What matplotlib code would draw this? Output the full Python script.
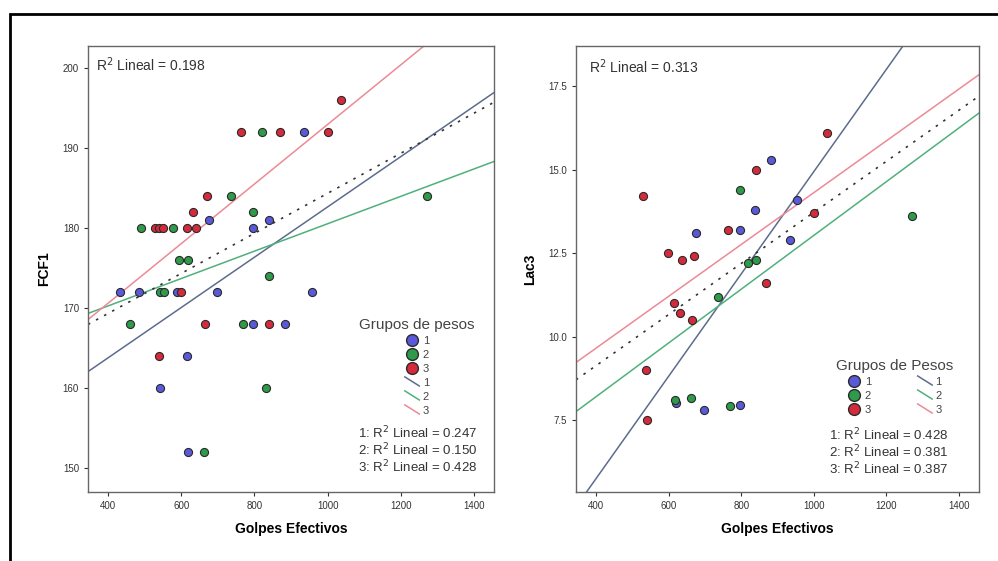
import numpy as np
import matplotlib
matplotlib.use('Agg')
from matplotlib import pyplot as plt
from matplotlib.lines import Line2D
from matplotlib.patches import Rectangle
from matplotlib.legend_handler import HandlerBase

plt.rcParams['font.family'] = ['Liberation Sans', 'DejaVu Sans']

# Left panel: FCF1 vs Golpes Efectivos, by weight group
fcf_g1_x = [935, 677, 839, 796, 433, 484, 588, 697, 957, 796, 884, 617, 542, 619]
fcf_g1_y = [192, 181, 181, 180, 172, 172, 172, 172, 172, 168, 168, 164, 160, 152]
fcf_g2_x = [820, 737, 797, 491, 577, 593, 619, 839, 1273, 542, 553, 460, 770, 832, 663]
fcf_g2_y = [192, 184, 182, 180, 180, 176, 176, 174, 184, 172, 172, 168, 168, 160, 152]
fcf_g3_x = [1038, 764, 870, 1002, 670, 633, 527, 538, 549, 617, 640, 599, 666, 840, 539]
fcf_g3_y = [196, 192, 192, 192, 184, 182, 180, 180, 180, 180, 180, 172, 168, 168, 164]

# Right panel: Lac3 vs Golpes Efectivos
lac_g1_x = [881, 955, 838, 675, 796, 934, 620, 698, 797]
lac_g1_y = [15.3, 14.1, 13.8, 13.1, 13.2, 12.9, 8.0, 7.79, 7.95]
lac_g2_x = [798, 1271, 820, 840, 735, 618, 662, 768]
lac_g2_y = [14.4, 13.6, 12.2, 12.3, 11.2, 8.1, 8.15, 7.91]
lac_g3_x = [530, 1036, 840, 1001, 764, 598, 638, 669, 869, 616, 631, 664, 538, 540]
lac_g3_y = [14.2, 16.1, 15.0, 13.7, 13.2, 12.5, 12.3, 12.4, 11.6, 11.0, 10.7, 10.5, 9.0, 7.5]

# fit lines: group 1, 2, 3, total
fcf_slopes = [0.0314, 0.0171, 0.0372, 0.0250]
fcf_intercepts = [151.2, 163.4, 155.7, 159.3]
lac_slopes = [0.01532, 0.00805, 0.00776, 0.00765]
lac_intercepts = [-0.38, 4.98, 6.55, 6.07]

fcf_r2 = ['0.247', '0.150', '0.428']
lac_r2 = ['0.428', '0.381', '0.387']
fcf_r2_total = '0.198'
lac_r2_total = '0.313'

groups = ['1', '2', '3']
marker_colors = ['#5a5ad8', '#2f9a4a', '#d42a3c']
line_colors = ['#5d6c8c', '#4fb07c', '#ec8a96']


class HandlerDiagonal(HandlerBase):
    # SPSS style legend key: a short falling line
    def create_artists(self, legend, orig_handle, xdescent, ydescent,
                       width, height, fontsize, trans):
        line = Line2D([-xdescent, -xdescent + width], [height, -ydescent + 0.1 * height],
                      color=orig_handle.get_color(), lw=orig_handle.get_linewidth(),
                      transform=trans)
        return [line]


fig = plt.figure(figsize=(9.98, 5.61), dpi=100)
fig.patches.append(Rectangle((10 / 998, -0.01), 1.0, 1 - 14 / 561 + 0.01,
                             transform=fig.transFigure, fill=False,
                             edgecolor='black', linewidth=2))

ax1 = fig.add_axes([88 / 998, 1 - 492 / 561, 406 / 998, 446 / 561])
ax2 = fig.add_axes([576 / 998, 1 - 492 / 561, 403 / 998, 446 / 561])


def draw_panel(ax, xs, ys, slopes, intercepts, xlim, ylim):
    ax.set_xlim(xlim)
    ax.set_ylim(ylim)
    xx = np.array(xlim)
    for i in range(3):
        ax.plot(xx, slopes[i] * xx + intercepts[i], color=line_colors[i], lw=1.1, zorder=2)
    ax.plot(xx, slopes[3] * xx + intercepts[3], color='#333333', lw=1.2,
            linestyle=(0, (1.5, 4)), zorder=2)
    for i in range(3):
        ax.scatter(xs[i], ys[i], s=34, color=marker_colors[i], edgecolors='#2a2a2a',
                   linewidths=0.8, zorder=3)
    ax.set_xticks([400, 600, 800, 1000, 1200, 1400])
    for s in ax.spines.values():
        s.set_color('#666666')
        s.set_linewidth(1.0)
    ax.tick_params(labelsize=7, colors='#333333', length=3, width=0.8)
    ax.set_xlabel('Golpes Efectivos', fontsize=10, fontweight='bold', labelpad=8)


draw_panel(ax1, [fcf_g1_x, fcf_g2_x, fcf_g3_x], [fcf_g1_y, fcf_g2_y, fcf_g3_y],
           fcf_slopes, fcf_intercepts, (345, 1455), (147, 202.7))
ax1.set_yticks([150, 160, 170, 180, 190, 200])
ax1.set_ylabel('FCF1', fontsize=10, fontweight='bold', labelpad=8)

draw_panel(ax2, [lac_g1_x, lac_g2_x, lac_g3_x], [lac_g1_y, lac_g2_y, lac_g3_y],
           lac_slopes, lac_intercepts, (345, 1455), (5.35, 18.7))
ax2.set_yticks([7.5, 10.0, 12.5, 15.0, 17.5])
ax2.set_yticklabels(['7.5', '10.0', '12.5', '15.0', '17.5'])
ax2.set_ylabel('Lac3', fontsize=10, fontweight='bold', labelpad=8)

ax1.text(0.02, 0.978, 'R$^2$ Lineal = ' + fcf_r2_total, transform=ax1.transAxes,
         fontsize=10, va='top', color='#333333')
ax2.text(0.032, 0.975, 'R$^2$ Lineal = ' + lac_r2_total, transform=ax2.transAxes,
         fontsize=10, va='top', color='#333333')

marker_handles = [Line2D([], [], marker='o', linestyle='none', markersize=8.5,
                         markerfacecolor=c, markeredgecolor='#2a2a2a') for c in marker_colors]
line_handles = [Line2D([], [], color=c, lw=1.1) for c in line_colors]
hmap = {h: HandlerDiagonal() for h in line_handles}

leg1 = ax1.legend(marker_handles + line_handles, groups + groups, title='Grupos de pesos',
                  loc='center', bbox_to_anchor=(0.81, 0.28), frameon=False,
                  fontsize=8, title_fontsize=11, handlelength=1.3, handleheight=0.9,
                  labelspacing=0.32, handletextpad=0.3, borderpad=0, handler_map=hmap)
leg2 = ax2.legend(marker_handles + line_handles, groups + groups, title='Grupos de Pesos',
                  loc='center', bbox_to_anchor=(0.79, 0.235), frameon=False, ncol=2,
                  fontsize=8, title_fontsize=11, handlelength=1.3, handleheight=0.9,
                  columnspacing=4.2, labelspacing=0.32, handletextpad=0.3, borderpad=0,
                  handler_map=hmap)
for leg in (leg1, leg2):
    leg.get_title().set_color('#444444')
    for t in leg.get_texts():
        t.set_color('#444444')

fcf_lines = '\n'.join(f'{g}: R$^2$ Lineal = {r}' for g, r in zip(groups, fcf_r2))
lac_lines = '\n'.join(f'{g}: R$^2$ Lineal = {r}' for g, r in zip(groups, lac_r2))
ax1.text(0.96, 0.037, fcf_lines, transform=ax1.transAxes, ha='right', va='bottom',
         fontsize=9.5, color='#333333', linespacing=1.05)
ax2.text(0.925, 0.032, lac_lines, transform=ax2.transAxes, ha='right', va='bottom',
         fontsize=9.5, color='#333333', linespacing=1.05)

fig.savefig('out.png', dpi=100)
